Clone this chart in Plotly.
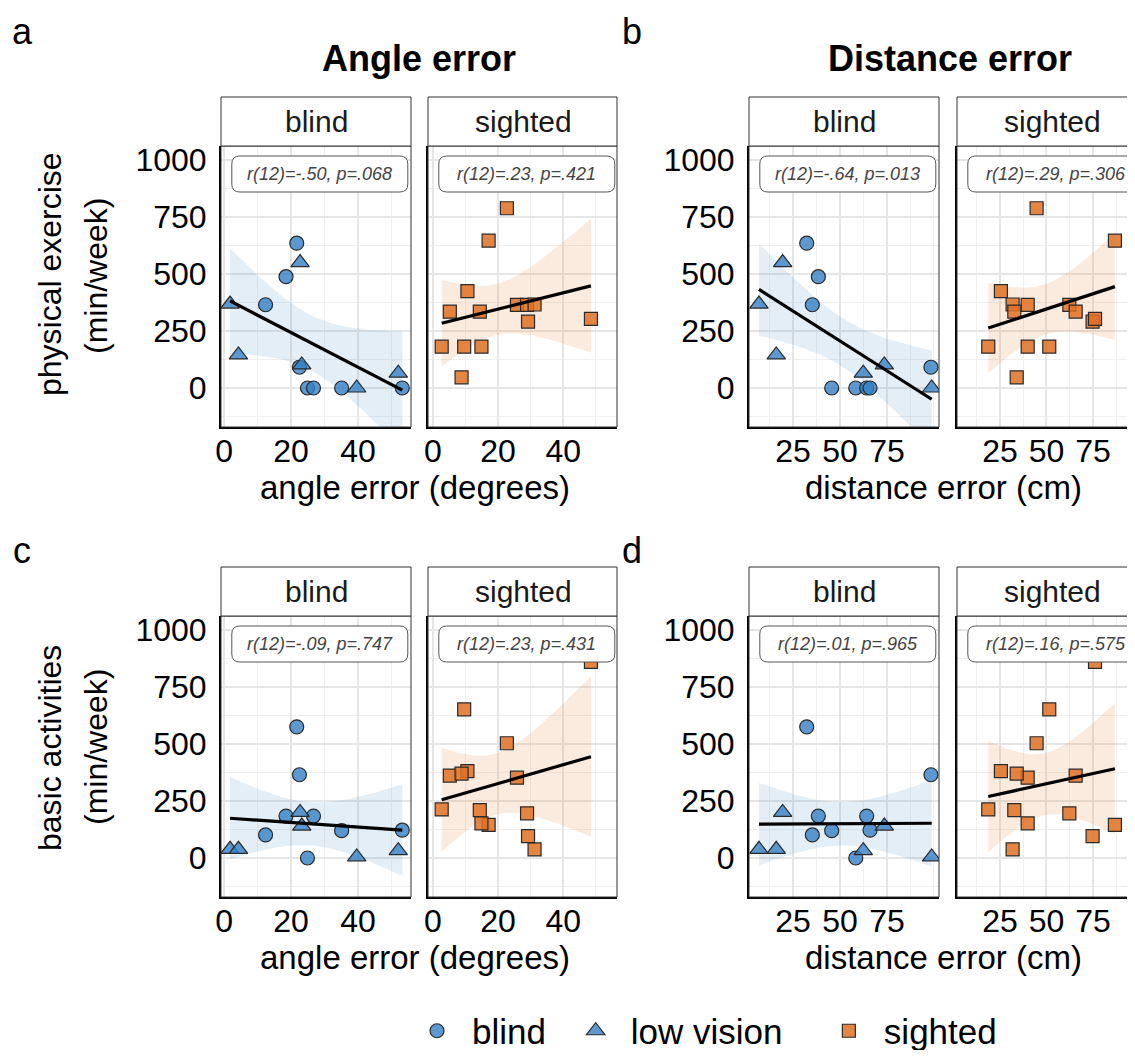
import numpy as np
import plotly.graph_objects as go

# ---------------- data ----------------
blind_group = ["blind", "low vision", "blind", "blind", "low vision", "low vision", "low vision",
               "blind", "low vision", "low vision", "blind", "blind", "blind", "blind"]
blind_angle = [21.7, 22.7, 18.5, 12.4, 1.8, 4.3, 23.2, 22.5, 52.0, 39.6, 24.9, 26.7, 35.1, 53.2]
blind_dist = [32.3, 19.5, 38.5, 35.3, 6.9, 16.1, 73.6, 98.4, 62.4, 98.8, 58.4, 64.2, 45.6, 66.0]
blind_exercise = [635, 550, 488, 365, 368, 145, 101, 91, 65, 0, 0, 0, 0, 0]
blind_basic = [575, 200, 184, 101, 38, 38, 140, 365, 32, 5, 0, 184, 120, 122]

sighted_angle = [22.7, 17.1, 10.6, 25.8, 28.9, 31.2, 5.2, 14.4, 29.2, 48.5, 2.7, 9.6, 14.9, 8.8]
sighted_dist = [44.7, 86.8, 25.5, 39.9, 62.3, 31.8, 65.7, 32.7, 74.8, 76.1, 18.7, 51.5, 39.9, 34.0]
sighted_exercise = [788, 646, 425, 364, 364, 366, 335, 335, 291, 303, 181, 181, 181, 47]
sighted_basic = [503, 145, 381, 352, 196, 38, 361, 210, 96, 860, 213, 652, 152, 370]

r_labels = {
    (0, 0): "r(12)=-.50, p=.068", (0, 1): "r(12)=.23, p=.421",
    (0, 2): "r(12)=-.64, p=.013", (0, 3): "r(12)=.29, p=.306",
    (1, 0): "r(12)=-.09, p=.747", (1, 1): "r(12)=.23, p=.431",
    (1, 2): "r(12)=.01, p=.965", (1, 3): "r(12)=.16, p=.575",
}

y_ticks = [0, 250, 500, 750, 1000]
y_minor = [-125, 125, 375, 625, 875]
angle_ticks = [0, 20, 40]
angle_minor = [10, 30, 50]
dist_ticks = [25, 50, 75]
dist_minor = [12.5, 37.5, 62.5, 87.5, 100]

T_CRIT = 2.1788  # t(0.975, df=12)

# ---------------- layout geometry (pixels of the 1135x1058 page) ----------------
PAGE_W, PAGE_H = 1135, 1058
OFF = 8  # default body margin of the html page
W, H = PAGE_W - 2 * OFF, PAGE_H - 2 * OFF
def fx(px): return (px - OFF) / W
def fy(py): return 1 - (py - OFF) / H

col_px = [(221, 411), (428, 617), (749, 939), (957, PAGE_W - OFF)]
row_px = [(146, 427), (616, 897)]
x_ranges = [[-0.9, 55.8], [-1.5, 56.5], [1.6, 102.7], [1.9, 1.9 + (PAGE_W - OFF - 957) / 1.86]]
y_range = [-171, 1061]

FONT = "Liberation Sans, Arial, sans-serif"
BLUE = "rgba(52,128,196,0.8)"
ORANGE = "rgba(225,112,35,0.85)"
BLUE_RIB = "rgba(70,140,200,0.15)"
ORANGE_RIB = "rgba(230,125,50,0.16)"
NB = "\u00a0"

fig = go.Figure()
annotations = []
shapes = []

def add_fit(x, y, xa, ya, ribcolor):
    x = np.asarray(x, float); y = np.asarray(y, float)
    n = len(x)
    b, a = np.polyfit(x, y, 1)
    res = y - (a + b * x)
    s = np.sqrt(np.sum(res ** 2) / (n - 2))
    xbar = x.mean(); sxx = np.sum((x - xbar) ** 2)
    xs = np.linspace(x.min(), x.max(), 80)
    yh = a + b * xs
    se = s * np.sqrt(1 / n + (xs - xbar) ** 2 / sxx)
    up, lo = yh + T_CRIT * se, yh - T_CRIT * se
    fig.add_trace(go.Scatter(x=np.concatenate([xs, xs[::-1]]), y=np.concatenate([up, lo[::-1]]),
                             fill="toself", fillcolor=ribcolor, line=dict(width=0),
                             mode="lines", hoverinfo="skip", showlegend=False, xaxis=xa, yaxis=ya))
    return xs, yh

def rounded_box(w, h, rad):
    hw, hh = w / 2, h / 2
    return (f"M {-hw + rad},{-hh} L {hw - rad},{-hh} Q {hw},{-hh} {hw},{-hh + rad} "
            f"L {hw},{hh - rad} Q {hw},{hh} {hw - rad},{hh} L {-hw + rad},{hh} "
            f"Q {-hw},{hh} {-hw},{hh - rad} L {-hw},{-hh + rad} Q {-hw},{-hh} {-hw + rad},{-hh} Z")

panels = []
for r, (yb, ys) in enumerate([(blind_exercise, sighted_exercise), (blind_basic, sighted_basic)]):
    panels.append((r, 0, blind_angle, yb, "blind"))
    panels.append((r, 1, sighted_angle, ys, "sighted"))
    panels.append((r, 2, blind_dist, yb, "blind"))
    panels.append((r, 3, sighted_dist, ys, "sighted"))

legend_names = {"blind": "blind" + NB, "low vision": "low vision" + NB * 2 + "\u2009",
                "sighted": "sighted"}

layout_axes = {}
for i, (r, c, xv, yv, grp) in enumerate(panels):
    k = i + 1
    xa = "x" if k == 1 else f"x{k}"
    ya = "y" if k == 1 else f"y{k}"
    rib = BLUE_RIB if grp == "blind" else ORANGE_RIB
    xs, yh = add_fit(xv, yv, xa, ya, rib)
    if grp == "blind":
        for g, sym, sz in [("blind", "circle", 14), ("low vision", "triangle-up", 16)]:
            px_ = [a for a, gg in zip(xv, blind_group) if gg == g]
            py_ = [b for b, gg in zip(yv, blind_group) if gg == g]
            fig.add_trace(go.Scatter(x=px_, y=py_, mode="markers", name=legend_names[g],
                                     marker=dict(symbol=sym, size=sz, color=BLUE,
                                                 line=dict(color="#2a2a2a", width=1.2)),
                                     showlegend=(k == 1), legendgroup=g, xaxis=xa, yaxis=ya))
    else:
        fig.add_trace(go.Scatter(x=xv, y=yv, mode="markers", name=legend_names["sighted"],
                                 marker=dict(symbol="square", size=13, color=ORANGE,
                                             line=dict(color="#2a2a2a", width=1.2)),
                                 showlegend=(k == 2), legendgroup="sighted", xaxis=xa, yaxis=ya))
    fig.add_trace(go.Scatter(x=xs, y=yh, mode="lines", line=dict(color="black", width=3.2),
                             hoverinfo="skip", showlegend=False, xaxis=xa, yaxis=ya))

    x0p, x1p = col_px[c]
    y0p, y1p = row_px[r]
    is_angle = c in (0, 1)
    xkey = "xaxis" if k == 1 else f"xaxis{k}"
    ykey = "yaxis" if k == 1 else f"yaxis{k}"
    layout_axes[xkey] = dict(
        domain=[fx(x0p), min(1.0, fx(x1p))], range=x_ranges[c], anchor=ya,
        tickmode="array", tickvals=angle_ticks if is_angle else dist_ticks,
        showgrid=True, gridcolor="#e6e6e6", gridwidth=1.6,
        minor=dict(tickmode="array", tickvals=angle_minor if is_angle else dist_minor,
                   showgrid=True, gridcolor="#efefef", gridwidth=1),
        showline=True, linecolor="black", linewidth=2, zeroline=False, ticks="",
        tickfont=dict(size=32, color="black", family=FONT), ticklabelstandoff=-5,
    )
    layout_axes[ykey] = dict(
        domain=[fy(y1p), fy(y0p)], range=y_range, anchor=xa,
        tickmode="array", tickvals=y_ticks,
        showgrid=True, gridcolor="#e6e6e6", gridwidth=1.6,
        minor=dict(tickmode="array", tickvals=y_minor, showgrid=True, gridcolor="#efefef", gridwidth=1),
        showline=True, linecolor="black", linewidth=2, zeroline=False, ticks="",
        showticklabels=(c in (0, 2)),
        tickfont=dict(size=32, color="black", family=FONT), ticklabelstandoff=6,
    )
    xr = f"{xa} domain"; yr = f"{ya} domain"
    ph = y1p - y0p
    right = 1.02 if c == 3 else 1
    shapes.append(dict(type="rect", xref=xr, yref=yr, x0=0, x1=right, y0=0, y1=1,
                       line=dict(color="#333333", width=1), layer="above"))
    shapes.append(dict(type="rect", xref=xr, yref=yr, x0=0, x1=right, y0=1, y1=1 + 49 / ph,
                       line=dict(color="#333333", width=1), fillcolor="white", layer="above"))
    full_w = 190
    annotations.append(dict(xref="paper", yref="paper", x=fx(x0p + full_w / 2), y=fy(y0p - 25),
                            text=grp, showarrow=False, font=dict(size=30, color="#1a1a1a", family=FONT),
                            xanchor="center", yanchor="middle"))
    cx, cy = x0p + full_w * 0.52, y0p + 28
    shapes.append(dict(type="path", xref="paper", yref="paper", xsizemode="pixel", ysizemode="pixel",
                       xanchor=fx(cx), yanchor=fy(cy), path=rounded_box(176, 36, 8),
                       line=dict(color="#555555", width=1), fillcolor="white", layer="above"))
    annotations.append(dict(xref="paper", yref="paper", x=fx(cx), y=fy(cy),
                            text=f"<i>{r_labels[(r, c)]}</i>", showarrow=False,
                            font=dict(size=18, color="#444444", family=FONT),
                            xanchor="center", yanchor="middle"))

for txt, x, y, sz, bold in [("Angle error", 419, 58, 36, True), ("Distance error", 950, 58, 36, True),
                            ("a", 22, 32, 36, False), ("b", 632, 32, 36, False),
                            ("c", 22, 550, 36, False), ("d", 632, 550, 36, False),
                            ("angle error (degrees)", 415, 487, 33, False),
                            ("distance error (cm)", 943, 487, 33, False),
                            ("angle error (degrees)", 415, 957, 33, False),
                            ("distance error (cm)", 943, 957, 33, False)]:
    annotations.append(dict(xref="paper", yref="paper", x=fx(x), y=fy(y),
                            text=f"<b>{txt}</b>" if bold else txt, showarrow=False,
                            font=dict(size=sz, color="black", family=FONT),
                            xanchor="center", yanchor="middle"))
for txt, x, y in [("physical exercise", 50, 274), ("(min/week)", 96, 276),
                  ("basic activities", 50, 748), ("(min/week)", 96, 747)]:
    annotations.append(dict(xref="paper", yref="paper", x=fx(x), y=fy(y), text=txt,
                            textangle=-90, showarrow=False,
                            font=dict(size=32, color="black", family=FONT),
                            xanchor="center", yanchor="middle"))

fig.update_layout(
    width=W, height=H, margin=dict(l=0, r=0, t=0, b=0, autoexpand=False),
    paper_bgcolor="white", plot_bgcolor="white",
    font=dict(family=FONT, color="black"),
    showlegend=True,
    legend=dict(orientation="h", x=fx(702), y=fy(1031), xanchor="center", yanchor="middle",
                font=dict(size=35, color="black", family=FONT), itemwidth=60, bgcolor="rgba(0,0,0,0)"),
    annotations=annotations, shapes=shapes,
    **layout_axes,
)
fig.write_html("out.html")
